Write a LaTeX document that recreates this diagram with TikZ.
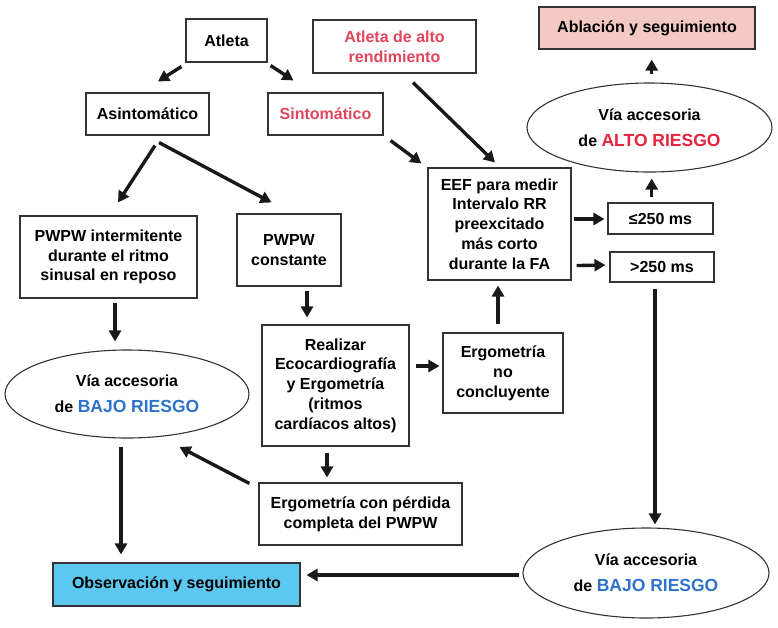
\documentclass[tikz,border=0pt]{standalone}
\usepackage{fontspec}
\setmainfont{Liberation Sans}
\usetikzlibrary{arrows.meta,calc,shapes.geometric}
\definecolor{rtxt}{HTML}{E2455C}
\definecolor{rbold}{HTML}{E8233F}
\definecolor{btxt}{HTML}{2D72CC}
\definecolor{pinkfill}{HTML}{F4C9C4}
\definecolor{bluefill}{HTML}{5DC8EF}
\definecolor{edge}{HTML}{333333}
\tikzset{
  box/.style={draw=edge,line width=1.1pt,rectangle,inner sep=0pt,align=center,
    font=\fontsize{16}{19.8}\selectfont\bfseries},
  oval/.style={draw=edge,line width=1.1pt,ellipse,inner sep=0pt,align=center,
    font=\fontsize{16}{20}\selectfont\bfseries},
  arr/.style={line width=3.4pt,-{Triangle[length=11pt,width=12pt]},black!90},
}
\newcommand{\bigrisk}[2]{{\color{#1}\fontsize{17.5}{20}\selectfont #2}}
\begin{document}
\begin{tikzpicture}[x=1pt,y=-1pt]
\useasboundingbox (0,0) rectangle (778,627);
\node[box,minimum width=81,minimum height=43] (atleta) at (226.5,40.5) {Atleta};
\node[box,minimum width=163,minimum height=53,text=rtxt] (alto) at (394.5,46.5) {Atleta de alto\\rendimiento};
\node[box,fill=pinkfill,minimum width=216,minimum height=42] (abl) at (647,28) {Ablación y seguimiento};
\node[box,minimum width=123,minimum height=42] (asin) at (147.5,114) {Asintomático};
\node[box,minimum width=115,minimum height=42,text=rtxt] (sint) at (325.5,114) {Sintomático};
\node[oval,minimum width=245,minimum height=89] (ealto) at (649.5,127.5) {Vía accesoria\\[6pt]de \bigrisk{rbold}{ALTO RIESGO}};
\node[box,minimum width=177,minimum height=82] (pwi) at (108.5,257) {PWPW intermitente\\durante el ritmo\\sinusal en reposo};
\node[box,minimum width=104,minimum height=72] (pwc) at (289,250) {PWPW\\constante};
\node[box,minimum width=143,minimum height=112] (eef) at (499.5,224) {EEF para medir\\Intervalo RR\\preexcitado\\más corto\\durante la FA};
\node[box,minimum width=105,minimum height=31] (le) at (660.5,218.5) {≤250 ms};
\node[box,minimum width=104,minimum height=30] (gt) at (662,267) {>250 ms};
\node[box,minimum width=147,minimum height=121] (real) at (335.5,385.5) {Realizar\\Ecocardiografía\\y Ergometría\\(ritmos\\cardíacos altos)};
\node[box,minimum width=120,minimum height=80] (enc) at (503,373) {Ergometría\\no\\concluyente};
\node[box,minimum width=203,minimum height=62] (ecp) at (360.5,514) {Ergometría con pérdida\\completa del PWPW};
\node[oval,minimum width=244,minimum height=88] (eleft) at (127,394) {Vía accesoria\\[6pt]de \bigrisk{btxt}{BAJO RIESGO}};
\node[box,fill=bluefill,minimum width=247,minimum height=43] (obs) at (176.5,584.5) {Observación y seguimiento};
\node[oval,minimum width=246,minimum height=90] (eright) at (646,573) {Vía accesoria\\[6pt]de \bigrisk{btxt}{BAJO RIESGO}};
% arrows
\draw[arr] ($(atleta.south west)+(-4,4)$) -- ($(asin.north)+(10.5,-11)$);
\draw[arr] ($(atleta.south east)+(3,3)$) -- ($(sint.north west)+(26,-12)$);
\draw[arr] ($(asin.south)+(7.5,10)$) -- ($(pwi.north)+(9.5,-13)$);
\draw[arr] ($(asin.south)+(11.5,7)$) -- ($(pwc.north west)+(35,-11)$);
\draw[arr] ($(alto.south)+(18.5,9)$) -- ($(eef.north)+(-4.5,-5)$);
\draw[arr] ($(sint.south east)+(7,5)$) -- ($(eef.north west)+(-6,-4)$);
\draw[arr] ($(ealto.north)+(2.2,-8)$) -- ($(abl.south)+(4.7,10)$);
\draw[arr] ($(le.north)+(-8.8,-5)$) -- ($(ealto.south)+(2.2,6)$);
\draw[arr] ($(eef.east)+(2,-5)$) -- ($(le.west)+(-3,0.5)$);
\draw[arr] ($(eef.south east)+(5,-15)$) -- ($(gt.west)+(-4,-2)$);
\draw[arr] ($(enc.north)+(-5,-8)$) -- ($(eef.south)+(-1.5,5)$);
\draw[arr] ($(gt.south)+(-7,6)$) -- ($(eright.north)+(9,-3)$);
\draw[arr] ($(eright.west)+(-3,2)$) -- ($(obs.east)+(6,-9.5)$);
\draw[arr] ($(pwi.south)+(6.5,4)$) -- ($(eleft.north)+(-12,-8)$);
\draw[arr] ($(pwc.south)+(18,4)$) -- ($(real.north)+(-28.5,-7)$);
\draw[arr] ($(real.east)+(6,-19.5)$) -- ($(enc.west)+(-3,-7)$);
\draw[arr] ($(real.south)+(-8.5,6)$) -- ($(ecp.north)+(-33.5,-5)$);
\draw[arr] ($(ecp.north west)+(-9,1)$) -- ($(eleft.east)+(-70,53)$);
\draw[arr] ($(eleft.south)+(-6,8)$) -- ($(obs.north)+(-55.5,-8)$);
\end{tikzpicture}
\end{document}
